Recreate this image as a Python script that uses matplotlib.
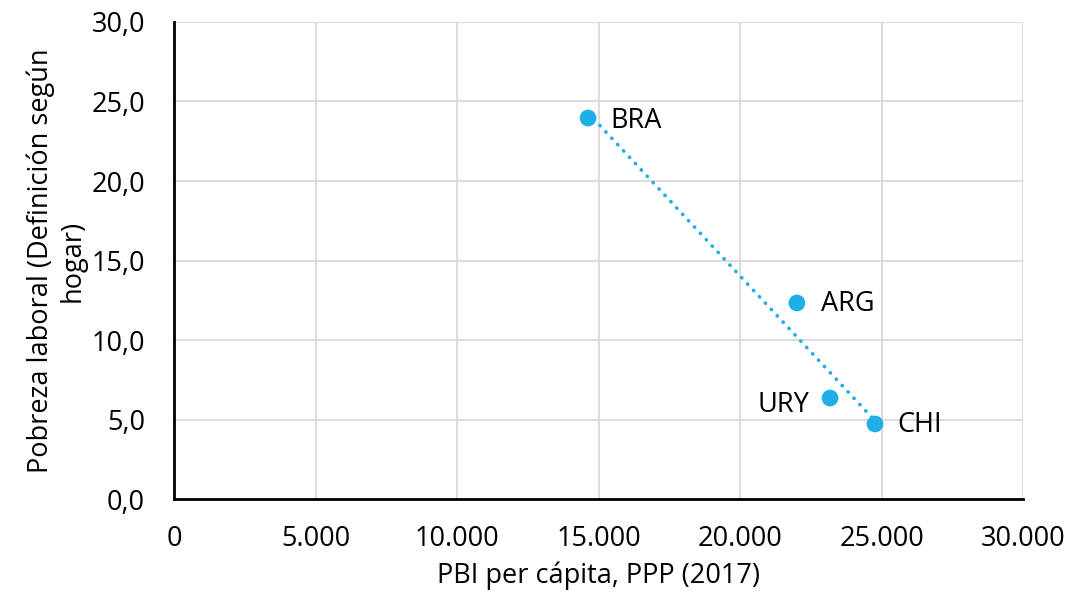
import matplotlib.pyplot as plt
import numpy as np
from matplotlib.ticker import FuncFormatter

# data
paises = ['BRA', 'ARG', 'URY', 'CHI']
pbi = [14630, 22010, 23180, 24770]
pobreza = [23.96, 12.33, 6.35, 4.72]
x_ticks = [0, 5000, 10000, 15000, 20000, 25000, 30000]
y_ticks = [0, 5, 10, 15, 20, 25, 30]

azul = '#1FAEE6'
fs = 19.5
plt.rcParams['font.family'] = ['Open Sans', 'DejaVu Sans']

fig = plt.figure(figsize=(10.71, 6.01), dpi=100)
ax = fig.add_axes([0.1625, 0.1697, 0.7927, 0.7937])

# linear trend line (excel style, from min x to max x)
m, b = np.polyfit(pbi, pobreza, 1)
xt = np.array([min(pbi), max(pbi)])
ax.plot(xt, m * xt + b, color=azul, lw=2.6, ls=(0, (0.1, 2.3)),
        dash_capstyle='round', zorder=2)

ax.scatter(pbi, pobreza, s=145, color=azul, zorder=3, edgecolors='none')

offsets = {'BRA': (16, -2, 'left'), 'ARG': (17, -1, 'left'),
           'URY': (-15, -5, 'right'), 'CHI': (16, -1, 'left')}
for p, x, y in zip(paises, pbi, pobreza):
    dx, dy, ha = offsets[p]
    ax.annotate(p, (x, y), xytext=(dx, dy), textcoords='offset points',
                ha=ha, va='center', fontsize=fs)

ax.set_xlim(0, 30000)
ax.set_ylim(0, 30)
ax.set_xticks(x_ticks)
ax.set_yticks(y_ticks)
ax.xaxis.set_major_formatter(FuncFormatter(lambda v, p: f'{int(v):,}'.replace(',', '.')))
ax.yaxis.set_major_formatter(FuncFormatter(lambda v, p: f'{v:.1f}'.replace('.', ',')))
ax.tick_params(labelsize=fs, length=0)
ax.tick_params(axis='x', pad=19)
ax.tick_params(axis='y', pad=21)
ax.grid(True, color='#D9D9D9', lw=1.3)
ax.set_axisbelow(True)
for s in ['top', 'right']:
    ax.spines[s].set_visible(False)
for s in ['left', 'bottom']:
    ax.spines[s].set_linewidth(2)
    ax.spines[s].set_color('black')

ax.set_xlabel('PBI per cápita, PPP (2017)', fontsize=fs, labelpad=6)
ax.set_ylabel('Pobreza laboral (Definición según\nhogar)', fontsize=fs, labelpad=3)

fig.savefig('out.png', dpi=100)
